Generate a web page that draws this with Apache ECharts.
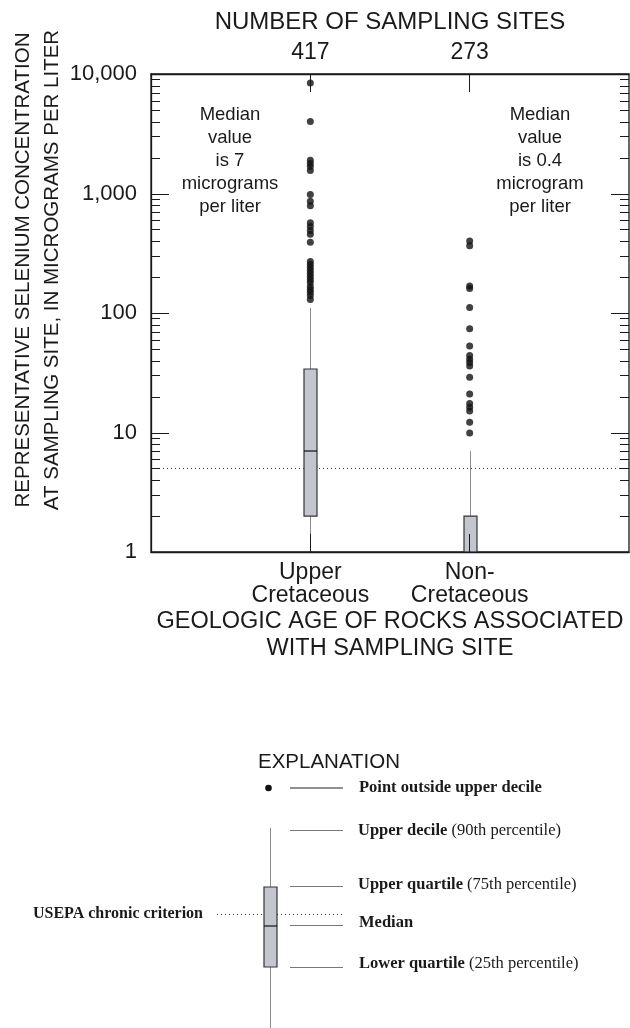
<!DOCTYPE html>
<html>
<head>
<meta charset="utf-8">
<script src="https://cdn.jsdelivr.net/npm/echarts@6/dist/echarts.min.js"></script>
<style>
  html, body { margin: 0; padding: 0; background: #fff; }
  #chart { width: 630px; height: 1028px; }
</style>
</head>
<body>
<div id="chart"></div>
<script>
// categories on the x axis (placed at x = 1 and x = 2)
var categories = ['Upper\nCretaceous', 'Non-\nCretaceous'];
var siteCounts = ['417', '273'];

// box statistics, micrograms per liter (values below 1 fall off the axis)
var upperDecile = [110, 7];
var upperQuartile = [34, 2];
var medians = [7, 0.4];
var lowerQuartile = [2, 0.2];
var lowerDecile = [0.5, 0.1];

// points outside the upper decile
var outliersUpperCret = [8400, 4000, 1900, 1780, 1680, 1560, 980, 860, 790, 570, 530, 490, 455, 390,
  270, 255, 240, 227, 214, 202, 191, 180, 167, 157, 149, 140, 130];
var outliersNonCret = [400, 365, 168, 160, 111, 74, 53, 44, 41, 38.5, 36, 29, 21, 17.5, 16.3, 15.1, 12.2, 9.9];

// USEPA chronic criterion
var criterion = 5;

// y axis ticks (log scale)
var yTickValues = [1, 10, 100, 1000, 10000];
var yTickLabels = ['1', '10', '100', '1,000', '10,000'];
var yMinorTickValues = [2, 3, 4, 5, 6, 7, 8, 9,
  20, 30, 40, 50, 60, 70, 80, 90,
  200, 300, 400, 500, 600, 700, 800, 900,
  2000, 3000, 4000, 5000, 6000, 7000, 8000, 9000];

var SANS = '"Liberation Sans", Arial, sans-serif';
var SERIF = '"Liberation Serif", "Times New Roman", serif';
var INK = '#1a1a1a';

var boxData = [];
for (var i = 0; i < categories.length; i++) {
  boxData.push([i + 1, lowerDecile[i], lowerQuartile[i], medians[i], upperQuartile[i], upperDecile[i]]);
}
var outlierData = [];
outliersUpperCret.forEach(function (v) { outlierData.push([1, v]); });
outliersNonCret.forEach(function (v) { outlierData.push([2, v]); });

var tickData = [];
yTickValues.forEach(function (v) { tickData.push([0, v, 1]); });
yMinorTickValues.forEach(function (v) { tickData.push([0, v, 0]); });

function renderBox(params, api) {
  var cs = params.coordSys;
  var top = cs.y, bottom = cs.y + cs.height;
  function clampY(y) { return Math.max(top, Math.min(bottom, y)); }
  var x = api.value(0);
  var cx = Math.round(api.coord([x, 1])[0]) + 0.5;
  var yLow = clampY(api.coord([x, api.value(1)])[1]);
  var yQ1 = clampY(api.coord([x, api.value(2)])[1]);
  var yMed = api.coord([x, api.value(3)])[1];
  var yQ3 = clampY(api.coord([x, api.value(4)])[1]);
  var yHigh = clampY(api.coord([x, api.value(5)])[1]);
  var halfW = 6.5;
  var children = [
    { type: 'line', shape: { x1: cx, y1: yQ1, x2: cx, y2: yLow }, style: { stroke: '#8c8c8c', lineWidth: 1 } },
    { type: 'line', shape: { x1: cx, y1: yQ3, x2: cx, y2: yHigh }, style: { stroke: '#8c8c8c', lineWidth: 1 } },
    { type: 'rect', shape: { x: cx - halfW, y: yQ3, width: halfW * 2, height: yQ1 - yQ3 },
      style: { fill: '#c3c7cd', stroke: '#333', lineWidth: 1.2 } }
  ];
  if (yMed >= top && yMed <= bottom) {
    children.push({ type: 'line', shape: { x1: cx - halfW, y1: yMed, x2: cx + halfW, y2: yMed },
      style: { stroke: '#111', lineWidth: 1.2 } });
  }
  return { type: 'group', children: children };
}

// tick marks on both vertical sides of the plot, placed with the log axis
function renderTick(params, api) {
  var cs = params.coordSys;
  var y = Math.round(api.coord([0, api.value(1)])[1]) + 0.5;
  var len = api.value(2) ? 18 : 9;
  var left = cs.x, right = cs.x + cs.width;
  return {
    type: 'group',
    children: [
      { type: 'line', shape: { x1: left, y1: y, x2: left + len, y2: y }, style: { stroke: INK, lineWidth: 1 } },
      { type: 'line', shape: { x1: right, y1: y, x2: right - len, y2: y }, style: { stroke: INK, lineWidth: 1 } }
    ]
  };
}

function explanationText(x, y, text) {
  return {
    type: 'text', x: x, y: y,
    style: {
      text: text, font: '16.5px ' + SERIF, fill: INK,
      align: 'left', verticalAlign: 'middle', textAlign: 'left', textVerticalAlign: 'middle',
      rich: { b: { fontWeight: 'bold', fontSize: 16.5, fontFamily: SERIF, fill: INK } }
    }
  };
}
function keyLine(y, color) {
  return { type: 'line', shape: { x1: 290, y1: y, x2: 343, y2: y }, style: { stroke: color, lineWidth: 1 } };
}
function sansBlock(x, y, text) {
  return {
    type: 'text', x: x, y: y,
    style: {
      text: text, font: '18.5px ' + SANS, fill: INK, lineHeight: 23,
      align: 'center', verticalAlign: 'top', textAlign: 'center', textVerticalAlign: 'top'
    }
  };
}

var chart = echarts.init(document.getElementById('chart'), null, { renderer: 'canvas' });

chart.setOption({
  animation: false,
  backgroundColor: '#fff',
  textStyle: { fontFamily: SANS },
  grid: { left: 151, right: 1, top: 74, bottom: 476, containLabel: false,
    show: true, borderColor: INK, borderWidth: 1.3, backgroundColor: 'transparent' },
  xAxis: [{
    type: 'value', min: 0, max: 3, interval: 1, position: 'bottom', z: 10,
    axisLine: { show: true, onZero: false, lineStyle: { color: INK, width: 1.3 } },
    axisTick: { show: true, inside: true, length: 18, lineStyle: { color: INK, width: 1 } },
    axisLabel: {
      fontSize: 23, color: INK, lineHeight: 23, margin: 9, showMinLabel: false, showMaxLabel: false,
      formatter: function (v) { return (v === 1 || v === 2) ? categories[v - 1] : ''; }
    },
    splitLine: { show: false },
    name: 'GEOLOGIC AGE OF ROCKS ASSOCIATED\nWITH SAMPLING SITE',
    nameLocation: 'middle', nameGap: 56,
    nameTextStyle: { fontSize: 23.5, color: INK, lineHeight: 27, fontFamily: SANS }
  }, {
    type: 'value', min: 0, max: 3, interval: 1, position: 'top', z: 10,
    axisLine: { show: true, onZero: false, lineStyle: { color: INK, width: 1.3 } },
    axisTick: { show: true, inside: true, length: 18, lineStyle: { color: INK, width: 1 } },
    axisLabel: {
      fontSize: 23, color: INK, margin: 10, showMinLabel: false, showMaxLabel: false,
      formatter: function (v) { return (v === 1 || v === 2) ? siteCounts[v - 1] : ''; }
    },
    splitLine: { show: false },
    name: 'NUMBER OF SAMPLING SITES',
    nameLocation: 'middle', nameGap: 40,
    nameTextStyle: { fontSize: 24, color: INK, fontFamily: SANS }
  }],
  yAxis: [{
    type: 'log', logBase: 10, min: 1, max: 10000, position: 'left', z: 10,
    axisLine: { show: true, lineStyle: { color: INK, width: 1.3 } },
    axisTick: { show: false },
    minorTick: { show: false },
    splitLine: { show: false },
    axisLabel: {
      fontSize: 22, color: INK, margin: 14,
      formatter: function (v) {
        var k = yTickValues.indexOf(Math.round(v));
        return k >= 0 ? yTickLabels[k] : '';
      }
    }
  }],
  series: [
    {
      type: 'line', xAxisIndex: 0, yAxisIndex: 0, z: 1,
      data: [[0, criterion], [3, criterion]],
      symbol: 'none', silent: true,
      lineStyle: { color: '#333', width: 1, type: [1, 3] }
    },
    {
      type: 'custom', xAxisIndex: 0, yAxisIndex: 0, z: 2,
      renderItem: renderBox,
      encode: { x: 0, y: [1, 2, 3, 4, 5] },
      data: boxData
    },
    {
      type: 'scatter', xAxisIndex: 0, yAxisIndex: 0, z: 3,
      symbol: 'circle', symbolSize: 7,
      itemStyle: { color: '#111' },
      data: outlierData
    },
    {
      type: 'custom', xAxisIndex: 0, yAxisIndex: 0, z: 4, silent: true,
      renderItem: renderTick,
      encode: { x: 0, y: 1 },
      data: tickData
    }
  ],
  graphic: [
    // y axis title
    {
      type: 'text', x: 38, y: 270, rotation: Math.PI / 2,
      style: {
        text: 'REPRESENTATIVE SELENIUM CONCENTRATION\nAT SAMPLING SITE, IN MICROGRAMS PER LITER',
        font: '20.5px ' + SANS, fill: INK, lineHeight: 29,
        align: 'center', verticalAlign: 'middle', textAlign: 'center', textVerticalAlign: 'middle'
      }
    },
    sansBlock(230, 103, 'Median\nvalue\nis 7\nmicrograms\nper liter'),
    sansBlock(540, 103, 'Median\nvalue\nis 0.4\nmicrogram\nper liter'),
    // explanation
    {
      type: 'text', x: 329, y: 762,
      style: {
        text: 'EXPLANATION', font: '20.5px ' + SANS, fill: INK,
        align: 'center', verticalAlign: 'middle', textAlign: 'center', textVerticalAlign: 'middle'
      }
    },
    { type: 'circle', shape: { cx: 268.5, cy: 788, r: 3.3 }, style: { fill: '#111' } },
    { type: 'line', shape: { x1: 270.5, y1: 828, x2: 270.5, y2: 1028 }, style: { stroke: '#8c8c8c', lineWidth: 1 } },
    { type: 'line', shape: { x1: 217, y1: 914.5, x2: 345, y2: 914.5 }, style: { stroke: '#333', lineWidth: 1, lineDash: [1, 3] } },
    { type: 'rect', shape: { x: 264, y: 887, width: 13, height: 80 }, style: { fill: '#c3c7cd', stroke: '#333', lineWidth: 1.2 } },
    { type: 'line', shape: { x1: 264, y1: 926, x2: 277, y2: 926 }, style: { stroke: '#111', lineWidth: 1.2 } },
    keyLine(788, '#222'),
    keyLine(830.5, '#777'),
    keyLine(886.5, '#777'),
    keyLine(925.5, '#777'),
    keyLine(967.5, '#777'),
    explanationText(359, 788, '{b|Point outside upper decile}'),
    explanationText(358, 831, '{b|Upper decile} (90th percentile)'),
    explanationText(358, 885, '{b|Upper quartile} (75th percentile)'),
    explanationText(359, 923, '{b|Median}'),
    explanationText(359, 964, '{b|Lower quartile} (25th percentile)'),
    {
      type: 'text', x: 203, y: 914,
      style: {
        text: 'USEPA chronic criterion', font: 'bold 16px ' + SERIF, fill: INK,
        align: 'right', verticalAlign: 'middle', textAlign: 'right', textVerticalAlign: 'middle'
      }
    }
  ]
});
</script>
</body>
</html>
